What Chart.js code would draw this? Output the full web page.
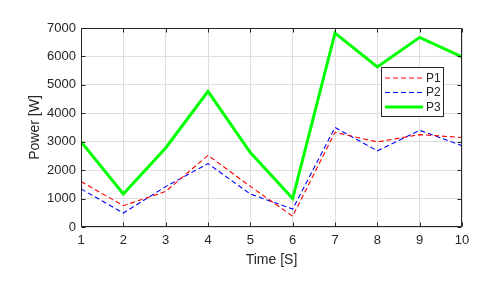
<!DOCTYPE html>
<html>
<head>
<meta charset="utf-8">
<script src="https://cdn.jsdelivr.net/npm/chart.js@4"></script>
<style>
html,body{margin:0;padding:0;background:#fff;}
#wrap{width:500px;height:283px;}
</style>
</head>
<body>
<div id="wrap"><canvas id="c" width="500" height="283"></canvas></div>
<script>
const time = [1, 2, 3, 4, 5, 6, 7, 8, 9, 10];
const p1 = [1600, 750, 1250, 2520, 1430, 380, 3330, 2990, 3250, 3150];
const p2 = [1340, 490, 1420, 2230, 1160, 630, 3500, 2680, 3400, 2860];
const p3 = [3000, 1160, 2780, 4770, 2620, 1000, 6820, 5630, 6670, 5980];
const xTicks = [1, 2, 3, 4, 5, 6, 7, 8, 9, 10];
const yTicks = [0, 1000, 2000, 3000, 4000, 5000, 6000, 7000];
const seriesNames = ['P1', 'P2', 'P3'];

const FONT = "'Liberation Sans', Arial, Helvetica, sans-serif";
const TXT = '#262626';

const toXY = arr => arr.map((v, i) => ({x: time[i], y: v}));

const boxPlugin = {
  id: 'box',
  afterDatasetsDraw(chart) {
    const {ctx, chartArea: a, scales} = chart;
    ctx.save();
    ctx.strokeStyle = TXT;
    ctx.lineWidth = 1;
    const L = Math.round(a.left) + 0.5, R = Math.round(a.right) - 0.5;
    const T = Math.round(a.top) + 0.5, B = Math.round(a.bottom) - 0.5;
    ctx.beginPath();
    ctx.rect(L, T, R - L, B - T);
    ctx.stroke();
    const tl = 4;
    ctx.beginPath();
    scales.x.ticks.forEach(t => {
      const px = Math.round(scales.x.getPixelForValue(t.value)) + 0.5;
      ctx.moveTo(px, B); ctx.lineTo(px, B - tl);
      ctx.moveTo(px, T); ctx.lineTo(px, T + tl);
    });
    scales.y.ticks.forEach(t => {
      const py = Math.round(scales.y.getPixelForValue(t.value)) + 0.5;
      ctx.moveTo(L, py); ctx.lineTo(L + tl, py);
      ctx.moveTo(R, py); ctx.lineTo(R - tl, py);
    });
    ctx.stroke();
    ctx.restore();
  },
  afterDraw(chart) {
    const {ctx} = chart;
    const bx = 381.5, by = 67.5, bw = 62, bh = 49;
    ctx.save();
    ctx.fillStyle = '#fff';
    ctx.fillRect(bx, by, bw, bh);
    ctx.strokeStyle = TXT;
    ctx.lineWidth = 1;
    ctx.strokeRect(bx, by, bw, bh);
    ctx.font = '12px ' + FONT;
    ctx.textBaseline = 'middle';
    ctx.textAlign = 'left';
    chart.data.datasets.forEach((ds, i) => {
      const cy = 78 + i * 14.5;
      ctx.beginPath();
      ctx.strokeStyle = ds.borderColor;
      ctx.lineWidth = ds.borderWidth;
      ctx.setLineDash(ds.borderDash || []);
      ctx.moveTo(385, cy);
      ctx.lineTo(423, cy);
      ctx.stroke();
      ctx.setLineDash([]);
      ctx.fillStyle = TXT;
      ctx.fillText(ds.label, 426, cy + 0.5);
    });
    ctx.restore();
  }
};

new Chart(document.getElementById('c'), {
  type: 'line',
  data: {
    datasets: [
      {label: seriesNames[0], data: toXY(p1), borderColor: '#ff0000', borderWidth: 1.1, borderDash: [5, 3], pointRadius: 0, fill: false, tension: 0},
      {label: seriesNames[1], data: toXY(p2), borderColor: '#0000ff', borderWidth: 1.1, borderDash: [5, 3], pointRadius: 0, fill: false, tension: 0},
      {label: seriesNames[2], data: toXY(p3), borderColor: '#00ff00', borderWidth: 3, pointRadius: 0, fill: false, tension: 0}
    ]
  },
  options: {
    responsive: false,
    animation: false,
    devicePixelRatio: 1,
    layout: {padding: {left: 0, right: 38, top: 28, bottom: 0}},
    plugins: {legend: {display: false}, tooltip: {enabled: false}},
    scales: {
      x: {
        type: 'linear', min: 1, max: 10,
        afterBuildTicks: s => { s.ticks = xTicks.map(v => ({value: v})); },
        afterFit: s => { s.height = 56; },
        grid: {color: '#dedede', drawTicks: false, lineWidth: 1},
        border: {display: false},
        ticks: {color: TXT, font: {family: FONT, size: 13}, padding: 6, maxRotation: 0, autoSkip: false},
        title: {display: true, text: 'Time [S]', color: TXT, font: {family: FONT, size: 14}, padding: {top: 0, bottom: 14}}
      },
      y: {
        type: 'linear', min: 0, max: 7000,
        afterBuildTicks: s => { s.ticks = yTicks.map(v => ({value: v})); },
        afterFit: s => { s.width = 81; },
        grid: {color: '#dedede', drawTicks: false, lineWidth: 1},
        border: {display: false},
        ticks: {color: TXT, font: {family: FONT, size: 13}, padding: 5, autoSkip: false, callback: v => String(v)},
        title: {display: true, text: 'Power [W]', color: TXT, font: {family: FONT, size: 14}, padding: {top: 27, bottom: 0}}
      }
    }
  },
  plugins: [boxPlugin]
});
</script>
</body>
</html>
